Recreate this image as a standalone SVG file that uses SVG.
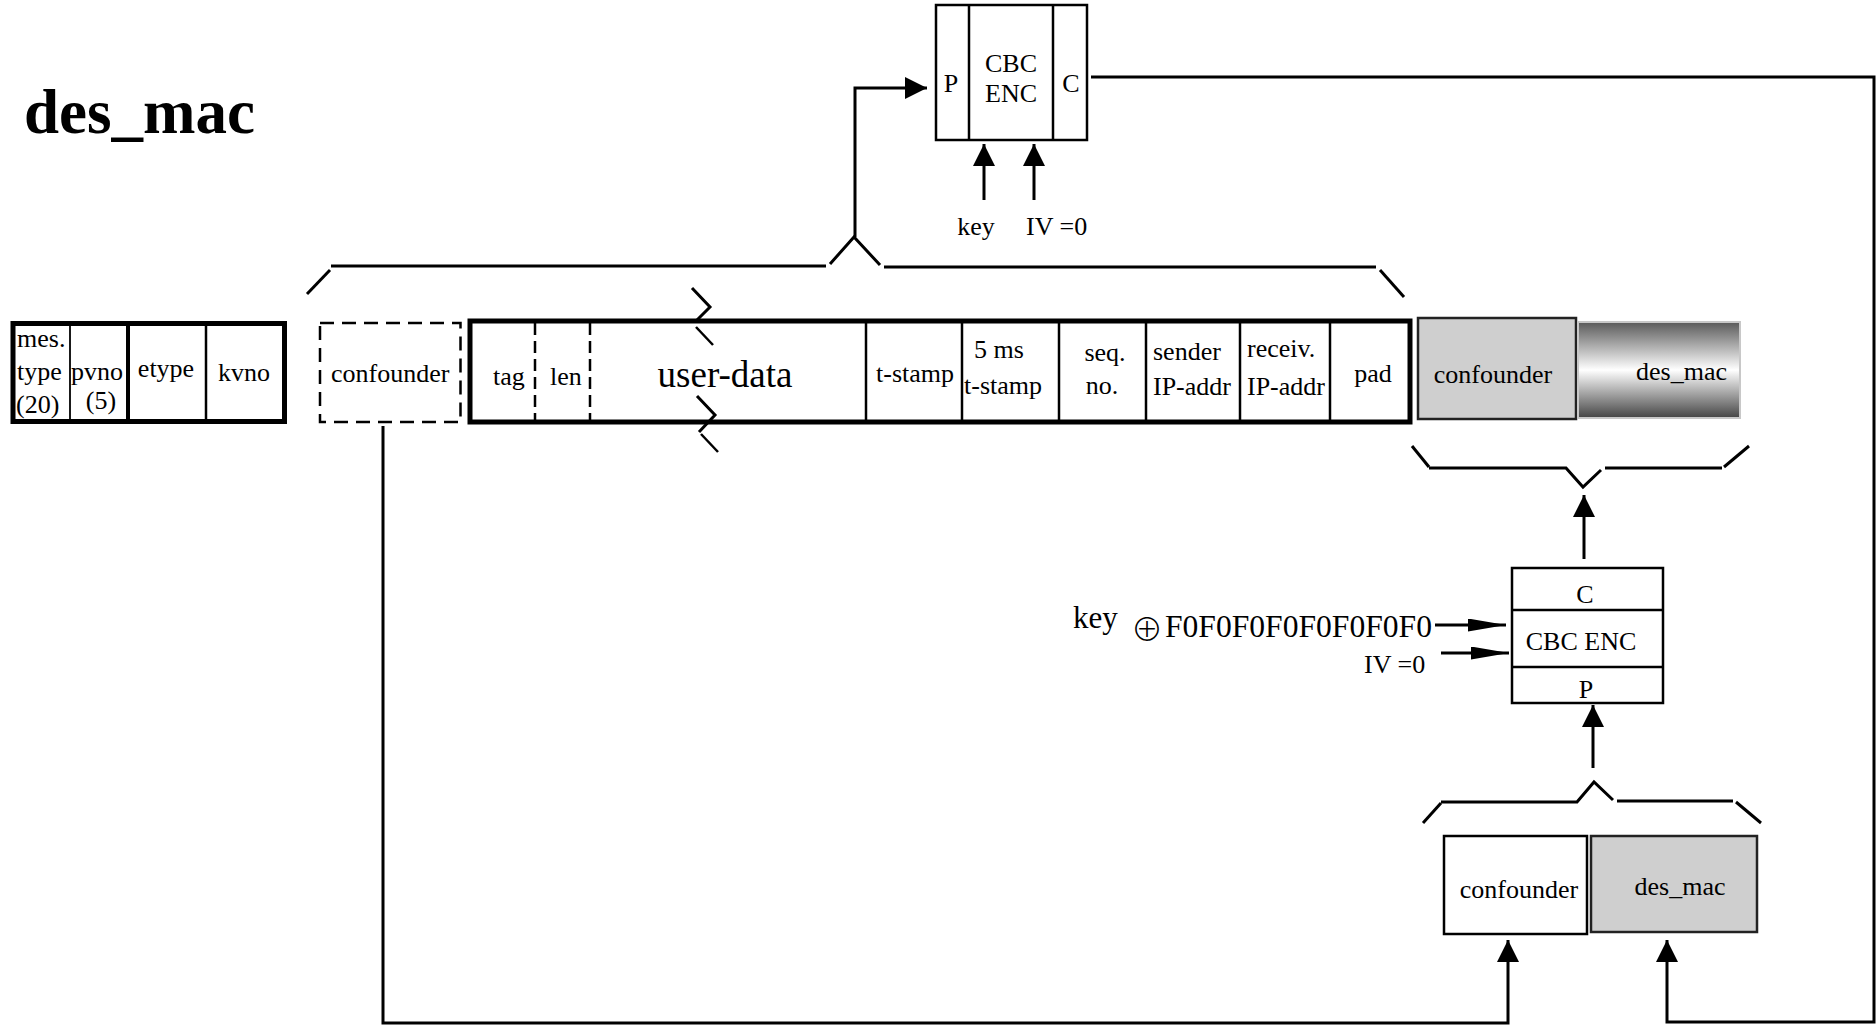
<svg xmlns="http://www.w3.org/2000/svg" width="1876" height="1027" viewBox="0 0 1876 1027">
<style>
.t{font-family:"Liberation Serif","Times New Roman",serif;font-size:26px;fill:#000}
.m{text-anchor:middle}
.e{text-anchor:end}
.ln{stroke:#000;stroke-width:3;fill:none}
.br{stroke:#000;stroke-width:3;fill:none;stroke-linecap:butt}
.box{fill:#fff;stroke:#000;stroke-width:2.5}
.thick{fill:#fff;stroke:#000;stroke-width:5}
.div{stroke:#000;stroke-width:2.5}
.dash{stroke:#000;stroke-width:2.5;stroke-dasharray:14 8;fill:none}
.gray{fill:#cfcfcf;stroke:#222;stroke-width:2.5}
</style>
<defs>
<marker id="ah" markerUnits="userSpaceOnUse" markerWidth="23" markerHeight="23" refX="22" refY="11" orient="auto">
<path d="M0,0 L22,11 L0,22 z" fill="#000"/>
</marker>
<marker id="ahn" markerUnits="userSpaceOnUse" markerWidth="40" markerHeight="14" refX="38" refY="6.5" orient="auto">
<path d="M0,0 L38,6.5 L0,13 z" fill="#000"/>
</marker>
<linearGradient id="metal" x1="0" y1="0" x2="0" y2="1">
<stop offset="0" stop-color="#5a5a5a"/>
<stop offset="0.5" stop-color="#ffffff"/>
<stop offset="1" stop-color="#454545"/>
</linearGradient>
</defs>
<rect width="1876" height="1027" fill="#fff"/>

<text x="24" y="133" style="font-family:'Liberation Serif','Times New Roman',serif;font-size:63px;font-weight:bold">des_mac</text>

<g id="header">
<rect class="thick" x="13" y="323.5" width="271.5" height="98"/>
<line x1="70" y1="323" x2="70" y2="421" stroke="#000" stroke-width="1.8"/>
<line x1="128" y1="323" x2="128" y2="423" stroke="#000" stroke-width="4"/>
<line class="div" x1="206" y1="323" x2="206" y2="421"/>
<text class="t" x="17" y="347">mes.</text>
<text class="t" x="17" y="380">type</text>
<text class="t" x="16" y="413">(20)</text>
<text class="t" x="71" y="380">pvno</text>
<text class="t m" x="101" y="409">(5)</text>
<text class="t m" x="166" y="377">etype</text>
<text class="t m" x="244" y="381">kvno</text>
</g>

<g id="confounder-dashed">
<rect class="dash" x="320" y="323" width="140.5" height="99"/>
<text class="t" x="331" y="382">confounder</text>
</g>

<g id="data-frame">
<rect class="thick" x="470" y="321" width="940" height="101"/>
<line x1="535" y1="323" x2="535" y2="420" stroke="#000" stroke-width="2.5" stroke-dasharray="12 6"/>
<line x1="590" y1="323" x2="590" y2="420" stroke="#000" stroke-width="2.5" stroke-dasharray="12 6"/>
<line class="div" x1="866" y1="321" x2="866" y2="422"/>
<line class="div" x1="962" y1="321" x2="962" y2="422"/>
<line class="div" x1="1059" y1="321" x2="1059" y2="422"/>
<line class="div" x1="1146" y1="321" x2="1146" y2="422"/>
<line class="div" x1="1240" y1="321" x2="1240" y2="422"/>
<line class="div" x1="1330" y1="321" x2="1330" y2="422"/>
<text class="t m" x="509" y="385">tag</text>
<text class="t m" x="566" y="385">len</text>
<text class="t m" x="725" y="387" style="font-size:37px">user-data</text>
<text class="t" x="876" y="382">t-stamp</text>
<text class="t" x="974" y="358">5 ms</text>
<text class="t" x="964" y="394">t-stamp</text>
<text class="t m" x="1105" y="361">seq.</text>
<text class="t m" x="1102" y="394">no.</text>
<text class="t" x="1153" y="360">sender</text>
<text class="t" x="1153" y="395">IP-addr</text>
<text class="t" x="1247" y="357">receiv.</text>
<text class="t" x="1247" y="395">IP-addr</text>
<text class="t m" x="1373" y="382">pad</text>
<polyline class="br" points="692,288 710,307 697,320" stroke-width="2.5"/>
<line x1="696" y1="327" x2="713" y2="345" stroke="#000" stroke-width="2.5"/>
<polyline class="br" points="697,396 715,415 699,432" stroke-width="2.5"/>
<line x1="701" y1="434" x2="718" y2="452" stroke="#000" stroke-width="2.5"/>
</g>

<g id="confounder-enc">
<rect class="gray" x="1418" y="318" width="158" height="101"/>
<text class="t m" x="1493" y="383">confounder</text>
</g>

<g id="des-mac-out">
<rect x="1578" y="322" width="162" height="96" fill="url(#metal)" stroke="#c8c8c8" stroke-width="2"/>
<text class="t e" x="1727" y="380">des_mac</text>
</g>

<g id="cbc-top">
<rect class="box" x="936" y="5" width="151" height="135"/>
<line class="div" x1="969" y1="5" x2="969" y2="140"/>
<line class="div" x1="1053" y1="5" x2="1053" y2="140"/>
<text class="t m" x="951" y="92">P</text>
<text class="t m" x="1011" y="72">CBC</text>
<text class="t m" x="1011" y="102">ENC</text>
<text class="t m" x="1071" y="92">C</text>
<text class="t m" x="976" y="235">key</text>
<text class="t" x="1026" y="235">IV =0</text>
</g>

<g id="cbc-bottom">
<rect class="box" x="1512" y="568" width="151" height="135"/>
<line class="div" x1="1512" y1="610" x2="1663" y2="610"/>
<line class="div" x1="1512" y1="667" x2="1663" y2="667"/>
<text class="t m" x="1585" y="603">C</text>
<text class="t m" x="1581" y="650">CBC ENC</text>
<text class="t m" x="1586" y="698">P</text>
<text class="t" x="1073" y="628" style="font-size:31px">key</text>
<text x="1147" y="641" text-anchor="middle" style="font-family:'Noto Sans CJK SC','DejaVu Sans',sans-serif;font-size:32px;font-weight:300">⊕</text>
<text class="t" x="1165" y="637" style="font-size:31px" textLength="267" lengthAdjust="spacingAndGlyphs">F0F0F0F0F0F0F0F0</text>
<text class="t" x="1364" y="673">IV =0</text>
</g>

<g id="confounder-in">
<rect class="box" x="1444" y="836" width="143" height="98"/>
<text class="t m" x="1519" y="898">confounder</text>
</g>

<g id="des-mac-in">
<rect class="gray" x="1591" y="836" width="166" height="96"/>
<text class="t m" x="1680" y="895">des_mac</text>
</g>

<g id="braces">
<line class="br" x1="307" y1="294" x2="330" y2="270"/>
<polyline class="br" points="331,266 826,266"/>
<polyline class="br" points="830,264 854,237 880,265"/>
<polyline class="br" points="884,267 1376,267"/>
<line class="br" x1="1380" y1="270" x2="1404" y2="297"/>

<line class="br" x1="1412" y1="446" x2="1429" y2="467"/>
<polyline class="br" points="1429,468 1566,468 1583,487 1601,470"/>
<line class="br" x1="1605" y1="468" x2="1722" y2="468"/>
<line class="br" x1="1724" y1="467" x2="1749" y2="446"/>

<line class="br" x1="1423" y1="823" x2="1441" y2="803"/>
<polyline class="br" points="1441,802 1577,802 1594,782 1613,800"/>
<line class="br" x1="1617" y1="801" x2="1733" y2="801"/>
<line class="br" x1="1736" y1="802" x2="1761" y2="823"/>
</g>

<g id="connectors">
<polyline class="ln" points="855,237 855,88 927,88" marker-end="url(#ah)"/>
<line class="ln" x1="984" y1="200" x2="984" y2="144" marker-end="url(#ah)"/>
<line class="ln" x1="1034" y1="200" x2="1034" y2="144" marker-end="url(#ah)"/>
<polyline class="ln" points="1091,77 1874,77 1874,1022 1667,1022 1667,940" marker-end="url(#ah)"/>
<polyline class="ln" points="383,426 383,1023 1508,1023 1508,940" marker-end="url(#ah)"/>
<line class="ln" x1="1584" y1="559" x2="1584" y2="495" marker-end="url(#ah)"/>
<line class="ln" x1="1593" y1="768" x2="1593" y2="705" marker-end="url(#ah)"/>
<line class="ln" x1="1435" y1="625" x2="1506" y2="625" marker-end="url(#ahn)"/>
<line class="ln" x1="1441" y1="653" x2="1509" y2="653" marker-end="url(#ahn)" stroke-width="2.5"/>
</g>
</svg>
